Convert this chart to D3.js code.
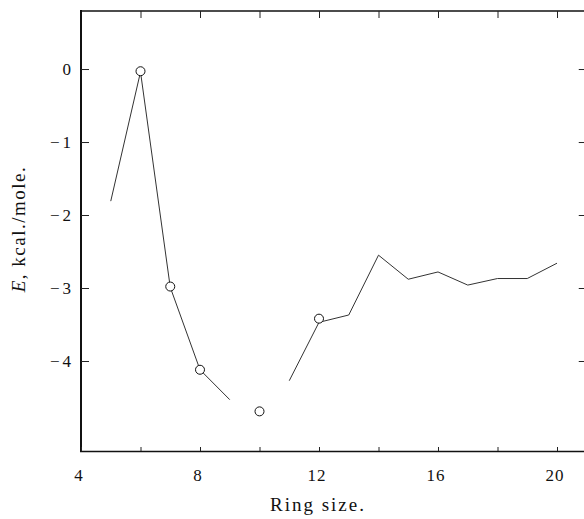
<!DOCTYPE html>
<html>
<head>
<meta charset="utf-8">
<script src="https://d3js.org/d3.v7.min.js"></script>
<style>
  body { margin: 0; background: #fff; }
  text { font-family: "Liberation Serif", "DejaVu Serif", serif; fill: #111; }
</style>
</head>
<body>
<div id="chart"></div>
<script>
// calculated curve, broken at ring size 10
const calcA = [[5, -1.81], [6, -0.04], [7, -2.99], [8, -4.12], [9, -4.53]];
const calcB = [[11, -4.27], [12, -3.47], [13, -3.37], [14, -2.55], [15, -2.88],
               [16, -2.78], [17, -2.96], [18, -2.87], [19, -2.87], [20, -2.66]];
// observed values (open circles)
const obsRing = [6, 7, 8, 10, 12];
const obsE = [-0.03, -2.98, -4.12, -4.69, -3.42];
const xTicks = [4, 6, 8, 10, 12, 14, 16, 18, 20];
const xLabels = [4, 8, 12, 16, 20];
const yTicks = [0, -1, -2, -3, -4];

const width = 584, height = 519;
const x = d3.scaleLinear().domain([4, 21]).range([81, 586.75]);
const y = d3.scaleLinear().domain([-5.233, 0.795]).range([451, 11]);

const svg = d3.select("#chart").append("svg")
    .attr("width", width).attr("height", height);

// frame
svg.append("line").attr("x1", 81).attr("x2", 81).attr("y1", 10).attr("y2", 452)
    .attr("stroke", "#111").attr("stroke-width", 2);
svg.append("line").attr("x1", 80).attr("x2", 590).attr("y1", 451.5).attr("y2", 451.5)
    .attr("stroke", "#111").attr("stroke-width", 1.5);
svg.append("line").attr("x1", 80).attr("x2", 590).attr("y1", 11).attr("y2", 11)
    .attr("stroke", "#111").attr("stroke-width", 1.5);
svg.append("line").attr("x1", x(21)).attr("x2", x(21)).attr("y1", 11).attr("y2", 451)
    .attr("stroke", "#111").attr("stroke-width", 1.5);

// ticks
const xAxisB = d3.axisBottom(x).tickValues(xTicks).tickSize(-4).tickFormat("");
const xAxisT = d3.axisTop(x).tickValues(xTicks.slice(1)).tickSize(-7).tickFormat("");
const yAxisL = d3.axisLeft(y).tickValues(yTicks).tickSize(-8).tickFormat("");
const yAxisR = d3.axisRight(y).tickValues(yTicks).tickSize(-8).tickFormat("");
[[xAxisB, "translate(0,451)"], [xAxisT, "translate(0,11)"],
 [yAxisL, "translate(81,0)"], [yAxisR, `translate(${x(21)},0)`]].forEach(([ax, t]) => {
  const g = svg.append("g").attr("transform", t).call(ax);
  g.select(".domain").remove();
  g.selectAll(".tick line").attr("stroke", "#222").attr("stroke-width", 1);
});

// tick labels
svg.selectAll(".xl").data(xLabels).enter().append("text")
    .attr("x", d => x(d) - 2).attr("y", 481)
    .attr("text-anchor", "middle").attr("font-size", 17)
    .attr("letter-spacing", 1)
    .text(d => d);
svg.selectAll(".yl").data(yTicks).enter().append("text")
    .attr("x", 71).attr("y", d => y(d) + 6)
    .attr("text-anchor", "end").attr("font-size", 17)
    .text(d => d === 0 ? "0" : "\u2212\u2006" + Math.abs(d));

// axis titles
svg.append("text").attr("x", 318).attr("y", 511)
    .attr("text-anchor", "middle").attr("font-size", 19)
    .attr("letter-spacing", 2).text("Ring size.");
svg.append("text").attr("transform", "translate(25,229) rotate(-90)")
    .attr("text-anchor", "middle").attr("font-size", 19)
    .attr("letter-spacing", 1.5)
    .html('<tspan font-style="italic">E</tspan>, kcal./mole.');

// curves
const line = d3.line().x(d => x(d[0])).y(d => y(d[1]));
[calcA, calcB].forEach(seg => {
  svg.append("path").datum(seg).attr("d", line)
      .attr("fill", "none").attr("stroke", "#333").attr("stroke-width", 1);
});

// observed circles
svg.selectAll(".obs").data(obsRing).enter().append("circle")
    .attr("cx", d => x(d)).attr("cy", (d, i) => y(obsE[i])).attr("r", 4.5)
    .attr("fill", "#fff").attr("stroke", "#111").attr("stroke-width", 1);
</script>
</body>
</html>
